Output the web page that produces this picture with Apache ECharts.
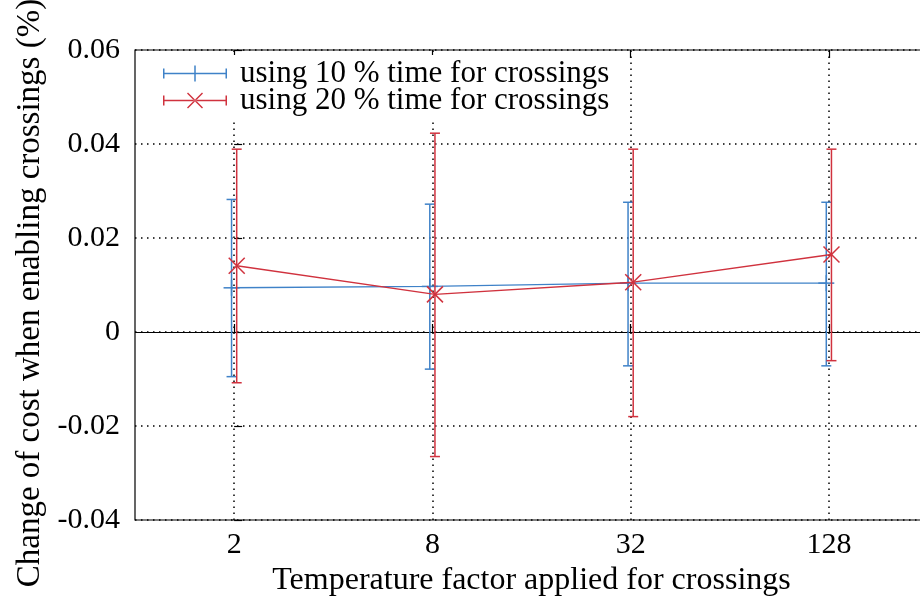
<!DOCTYPE html>
<html>
<head>
<meta charset="utf-8">
<script src="https://cdn.jsdelivr.net/npm/echarts@6/dist/echarts.min.js"></script>
<style>
html,body{margin:0;padding:0;background:#fff;}
#chart{width:920px;height:597px;}
</style>
</head>
<body>
<div id="chart"></div>
<script>
// ---- data ----
const categories = ['2', '8', '32', '128'];
const yTicks = [-0.04, -0.02, 0, 0.02, 0.04, 0.06];
const blueName = 'using 10 % time for crossings';
const redName = 'using 20 % time for crossings';
const blueMean = [0.0094, 0.0097, 0.0104, 0.0104];
const blueLow  = [-0.0095, -0.0079, -0.0072, -0.0072];
const blueHigh = [0.0282, 0.0272, 0.0276, 0.0276];
const redMean  = [0.0141, 0.0080, 0.0106, 0.0165];
const redLow   = [-0.0108, -0.0265, -0.0180, -0.0061];
const redHigh  = [0.0389, 0.0423, 0.0389, 0.0389];

// ---- styling ----
const BLUE = '#3f82c8';
const RED = '#d0323e';
const FONT = '"Liberation Serif", "DejaVu Serif", serif';
const OFF = 0.013; // horizontal offset of the two series (in category units)

const blueData = blueMean.map((m, i) => [i - OFF, m, blueLow[i], blueHigh[i]]);
const redData = redMean.map((m, i) => [i + OFF, m, redLow[i], redHigh[i]]);

function makeRender(marker) {
  return function (params, api) {
    const x = api.value(0);
    const c = api.coord([x, api.value(1)]);
    const lo = api.coord([x, api.value(2)]);
    const hi = api.coord([x, api.value(3)]);
    const col = api.visual('color');
    const st = { stroke: col, lineWidth: 1.5, fill: null };
    const cap = 5, m = 8;
    const ch = [
      { type: 'line', shape: { x1: c[0], y1: lo[1], x2: c[0], y2: hi[1] }, style: st },
      { type: 'line', shape: { x1: c[0] - cap, y1: lo[1], x2: c[0] + cap, y2: lo[1] }, style: st },
      { type: 'line', shape: { x1: c[0] - cap, y1: hi[1], x2: c[0] + cap, y2: hi[1] }, style: st }
    ];
    if (marker === 'plus') {
      ch.push({ type: 'line', shape: { x1: c[0] - m, y1: c[1], x2: c[0] + m, y2: c[1] }, style: st });
      ch.push({ type: 'line', shape: { x1: c[0], y1: c[1] - m, x2: c[0], y2: c[1] + m }, style: st });
    } else {
      ch.push({ type: 'line', shape: { x1: c[0] - m, y1: c[1] - m, x2: c[0] + m, y2: c[1] + m }, style: st });
      ch.push({ type: 'line', shape: { x1: c[0] - m, y1: c[1] + m, x2: c[0] + m, y2: c[1] - m }, style: st });
    }
    return { type: 'group', children: ch };
  };
}

const iconBlue = 'path://M0,7.25H64V8.75H0Z M0,3H1.5V13H0Z M62.5,3H64V13H62.5Z M31.25,0H32.75V16H31.25Z';
const iconRed = 'path://M0,7.25H64V8.75H0Z M0,3H1.5V13H0Z M62.5,3H64V13H62.5Z M24,1L39,16L40,15L25,0Z M39,0L24,15L25,16L40,1Z';

const dotted = { color: '#000', width: 1.5, type: [1.5, 4.5] };

const chart = echarts.init(document.getElementById('chart'), null, { renderer: 'canvas' });
chart.setOption({
  animation: false,
  backgroundColor: '#fff',
  textStyle: { fontFamily: FONT, color: '#000' },
  grid: {
    left: 135, right: -8, top: 50, bottom: 77, show: true, borderColor: '#000', borderWidth: 1.2,
    backgroundColor: 'transparent', containLabel: false, outerBoundsMode: 'none'
  },
  legend: {
    left: 158, top: 55, orient: 'vertical', selectedMode: false,
    itemWidth: 64, itemHeight: 16, itemGap: -4,
    padding: [3, 6, 3, 5],
    backgroundColor: '#fff',
    textStyle: { fontFamily: FONT, fontSize: 31, color: '#000', lineHeight: 26, padding: [0, 0, 0, 8] },
    data: [
      { name: blueName, icon: iconBlue, itemStyle: { color: BLUE } },
      { name: redName, icon: iconRed, itemStyle: { color: RED } }
    ]
  },
  xAxis: [
    {
      type: 'category', data: categories, boundaryGap: true, position: 'bottom',
      axisLine: { show: false },
      axisTick: { show: true, inside: true, alignWithLabel: true, length: 8, lineStyle: { color: '#000', width: 1.2 } },
      axisLabel: { fontFamily: FONT, fontSize: 30, color: '#000', margin: 10 },
      splitLine: { show: false },
      name: 'Temperature factor applied for crossings', nameLocation: 'middle', nameGap: 38,
      nameTextStyle: { fontFamily: FONT, fontSize: 32, color: '#000' }
    },
    {
      type: 'category', data: categories, boundaryGap: true, position: 'top',
      axisLine: { show: false },
      axisTick: { show: true, inside: true, alignWithLabel: true, length: 8, lineStyle: { color: '#000', width: 1.2 } },
      axisLabel: { show: false }, splitLine: { show: false }
    },
    { type: 'value', min: -0.5, max: categories.length - 0.5, show: false }
  ],
  yAxis: {
    type: 'value', min: yTicks[0], max: yTicks[yTicks.length - 1], interval: 0.02,
    axisLine: { show: false },
    axisTick: { show: true, inside: true, length: 8, lineStyle: { color: '#000', width: 1.2 } },
    axisLabel: {
      fontFamily: FONT, fontSize: 30, color: '#000', margin: 15,
      formatter: v => (Math.abs(v) < 1e-9 ? '0' : String(+v.toFixed(2)))
    },
    splitLine: { show: true, lineStyle: dotted },
    name: 'Change of cost when enabling crossings (%)', nameLocation: 'middle', nameGap: 88,
    nameTextStyle: { fontFamily: FONT, fontSize: 33, color: '#000', padding: [0, 16, 0, 0] }
  },
  series: [
    {
      name: blueName, type: 'line', xAxisIndex: 2, data: blueData.map(d => [d[0], d[1]]),
      symbol: 'none', lineStyle: { color: BLUE, width: 1.4 }, itemStyle: { color: BLUE }, z: 3,
      markLine: {
        silent: true, symbol: 'none', label: { show: false }, z: 1,
        data: categories.map((c, i) => ({ xAxis: i, lineStyle: dotted }))
          .concat([{ yAxis: 0, lineStyle: { color: '#000', width: 1.2, type: 'solid' } }])
      }
    },
    {
      name: blueName, type: 'custom', xAxisIndex: 2, data: blueData,
      encode: { x: 0, y: [1, 2, 3] }, itemStyle: { color: BLUE },
      renderItem: makeRender('plus'), z: 4
    },
    {
      name: redName, type: 'line', xAxisIndex: 2, data: redData.map(d => [d[0], d[1]]),
      symbol: 'none', lineStyle: { color: RED, width: 1.4 }, itemStyle: { color: RED }, z: 5
    },
    {
      name: redName, type: 'custom', xAxisIndex: 2, data: redData,
      encode: { x: 0, y: [1, 2, 3] }, itemStyle: { color: RED },
      renderItem: makeRender('cross'), z: 6
    }
  ]
});
</script>
</body>
</html>
